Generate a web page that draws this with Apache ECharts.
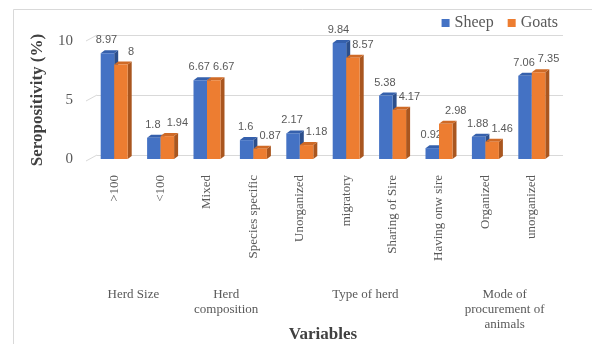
<!DOCTYPE html>
<html>
<head>
<meta charset="utf-8">
<script src="https://cdn.jsdelivr.net/npm/echarts@6/dist/echarts.min.js"></script>
<style>
  html, body { margin: 0; padding: 0; background: #fff; }
  #chart { width: 592px; height: 344px; }
</style>
</head>
<body>
<div id="chart"></div>
<script>
// Seropositivity by risk factor, sheep vs goats
const categories = ['>100', '<100', 'Mixed', 'Species specific', 'Unorganized',
  'migratory', 'Sharing of Sire', 'Having onw sire', 'Organized', 'unorganized'];
const sheep = [8.97, 1.8, 6.67, 1.6, 2.17, 9.84, 5.38, 0.92, 1.88, 7.06];
const goats = [8, 1.94, 6.67, 0.87, 1.18, 8.57, 4.17, 2.98, 1.46, 7.35];
const yTicks = [0, 5, 10];
// variable groups: label lines and the first/last category index they span
const groupNames = [['Herd Size'], ['Herd', 'composition'], ['Type of herd'], ['Mode of', 'procurement of', 'animals']];
const groupSpans = [[0, 1], [2, 3], [4, 7], [8, 9]];

const SERIF = 'Liberation Serif, Times New Roman, serif';
const SANS = 'Liberation Sans, Arial, sans-serif';
const BAR_W = 13.5;
const DX = 4, DY = 3;

const palettes = [
  { front: '#4472C4', side: '#2C4F8C', top: '#3560AC', labelDx: -1 },
  { front: '#ED7D31', side: '#A9561F', top: '#CF6A26', labelDx: 10 }
];

function makeBarRenderer(seriesIdx) {
  const pal = palettes[seriesIdx];
  return function (params, api) {
    const idx = api.value(0);
    const val = api.value(1);
    const top = api.coord([idx, val]);
    const base = api.coord([idx, 0]);
    const x0 = seriesIdx === 0 ? top[0] - BAR_W : top[0];
    const x1 = x0 + BAR_W;
    const yT = top[1], yB = base[1];
    return {
      type: 'group',
      children: [
        { type: 'polygon', shape: { points: [[x1, yT], [x1 + DX, yT - DY], [x1 + DX, yB - DY], [x1, yB]] },
          style: { fill: pal.side } },
        { type: 'polygon', shape: { points: [[x0, yT], [x0 + DX, yT - DY], [x1 + DX, yT - DY], [x1, yT]] },
          style: { fill: pal.top } },
        { type: 'rect', shape: { x: x0, y: yT, width: BAR_W, height: yB - yT },
          style: { fill: pal.front } },
        { type: 'text', x: x0 + BAR_W / 2 + pal.labelDx, y: yT - 13,
          style: { text: String(val), fill: '#595959', font: '11px ' + SANS, align: 'center', verticalAlign: 'middle' } }
      ]
    };
  };
}

const chart = echarts.init(document.getElementById('chart'), null, { renderer: 'canvas' });

const option = {
  animation: false,
  backgroundColor: '#fff',
  legend: {
    right: 29, top: 10,
    itemWidth: 8, itemHeight: 8, itemGap: 14,
    icon: 'rect',
    textStyle: { fontFamily: SERIF, fontSize: 16, color: '#595959' },
    data: ['Sheep', 'Goats']
  },
  grid: [
    { left: 91, right: 37, top: 41, bottom: 185, outerBoundsMode: 'none', containLabel: false },   // front plane (bars)
    { left: 97, right: 29, top: 35, bottom: 189, outerBoundsMode: 'none', containLabel: false }    // back wall (gridlines)
  ],
  xAxis: [
    {
      type: 'category', gridIndex: 0, data: categories,
      axisLine: { show: false }, axisTick: { show: false },
      axisLabel: { interval: 0, rotate: 90, margin: 16, fontFamily: SERIF, fontSize: 13, color: '#595959' },
      name: 'Variables', nameLocation: 'middle', nameGap: 167,
      nameTextStyle: { fontFamily: SERIF, fontSize: 17, fontWeight: 'bold', color: '#404040' }
    },
    { type: 'value', gridIndex: 1, min: 0, max: 1, show: false }
  ],
  yAxis: [
    {
      type: 'value', gridIndex: 0, min: 0, max: 10, interval: 5,
      axisLine: { show: false }, axisTick: { show: false }, splitLine: { show: false },
      axisLabel: { margin: 18, padding: [5, 0, 0, 0], fontFamily: SERIF, fontSize: 15, color: '#595959' },
      name: 'Seropositivity (%)', nameLocation: 'middle', nameRotate: 90, nameGap: 45,
      nameTextStyle: { fontFamily: SERIF, fontSize: 17, fontWeight: 'bold', color: '#404040' }
    },
    {
      type: 'value', gridIndex: 1, min: 0, max: 10, interval: 5,
      axisLine: { show: false }, axisTick: { show: false }, axisLabel: { show: false },
      splitLine: { show: true, lineStyle: { color: '#D9D9D9', width: 1 } }
    }
  ],
  series: [
    {
      // side-wall segments of the gridlines
      type: 'custom', xAxisIndex: 1, yAxisIndex: 1, silent: true,
      data: yTicks.map(v => [0, v]),
      renderItem: function (params, api) {
        const p = api.coord([0, api.value(1)]);
        return { type: 'line', shape: { x1: p[0], y1: p[1], x2: p[0] - 11, y2: p[1] + 6 },
          style: { stroke: '#D9D9D9', lineWidth: 1 } };
      }
    },
    {
      name: 'Sheep', type: 'custom', xAxisIndex: 0, yAxisIndex: 0,
      itemStyle: { color: palettes[0].front },
      data: sheep.map((v, i) => [i, v]),
      encode: { x: 0, y: 1 },
      renderItem: makeBarRenderer(0)
    },
    {
      name: 'Goats', type: 'custom', xAxisIndex: 0, yAxisIndex: 0,
      itemStyle: { color: palettes[1].front },
      data: goats.map((v, i) => [i, v]),
      encode: { x: 0, y: 1 },
      renderItem: makeBarRenderer(1)
    }
  ]
};

chart.setOption(option);

// outer frame and group labels under the category labels
const gfx = [
  { type: 'line', shape: { x1: 13.5, y1: 9.5, x2: 592, y2: 9.5 }, style: { stroke: '#D9D9D9', lineWidth: 1 } },
  { type: 'line', shape: { x1: 13.5, y1: 9.5, x2: 13.5, y2: 344 }, style: { stroke: '#D9D9D9', lineWidth: 1 } }
];
groupNames.forEach(function (lines, g) {
  const a = chart.convertToPixel({ xAxisIndex: 0 }, groupSpans[g][0]);
  const b = chart.convertToPixel({ xAxisIndex: 0 }, groupSpans[g][1]);
  const cx = (a + b) / 2 - 4;
  gfx.push({
    type: 'text', x: cx, y: 287,
    style: { text: lines.join('\n'), font: '13px ' + SERIF, fill: '#595959', align: 'center', verticalAlign: 'top', lineHeight: 15 }
  });
});
chart.setOption({ graphic: gfx });
</script>
</body>
</html>
